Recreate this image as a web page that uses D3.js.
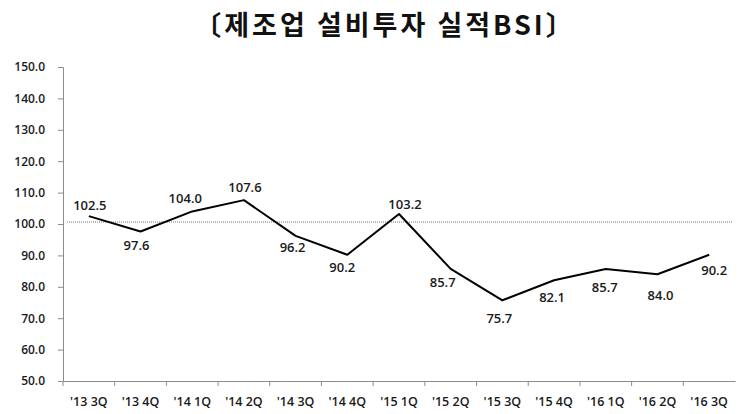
<!DOCTYPE html>
<html>
<head>
<meta charset="utf-8">
<script src="https://cdn.jsdelivr.net/npm/d3@7"></script>
<style>
  body { margin: 0; background: #fff; }
  svg { display: block; }
</style>
</head>
<body>
<div id="chart"></div>
<script>
// data
var quarters = ["'13 3Q", "'13 4Q", "'14 1Q", "'14 2Q", "'14 3Q", "'14 4Q", "'15 1Q",
                "'15 2Q", "'15 3Q", "'15 4Q", "'16 1Q", "'16 2Q", "'16 3Q"];
var bsi = [102.5, 97.6, 104.0, 107.6, 96.2, 90.2, 103.2, 85.7, 75.7, 82.1, 85.7, 84.0, 90.2];
var yTicks = [50, 60, 70, 80, 90, 100, 110, 120, 130, 140, 150];
var baseline = 100;

// label nudges (dx, dy of label centre from point)
var label_nudge = [[1, -11], [-4, 14], [-7, -13], [1, -13], [-3, 12], [-5, 13], [6, -10],
                   [-8, 14], [-3, 18], [-2, 17], [-1, 19], [3, 21], [5, 16]];

var width = 738, height = 414;
var margin = {top: 67, right: 3, bottom: 33, left: 63};

var svg = d3.select('#chart').append('svg')
  .attr('width', width)
  .attr('height', height);

var font = '"Open Sans", "Noto Sans CJK KR", sans-serif';
var text_color = '#1a1a1a';

// title
svg.append('text')
  .text('〔제조업 설비투자 실적BSI〕')
  .attr('x', 385)
  .attr('y', 35)
  .style('font-family', '"Noto Sans CJK KR", sans-serif')
  .style('font-weight', 700)
  .style('font-size', '27px')
  .style('letter-spacing', '3px')
  .style('text-anchor', 'middle')
  .style('fill', '#111');

var x = d3.scaleBand()
  .domain(quarters)
  .range([margin.left, width - margin.right]);

var y = d3.scaleLinear()
  .domain([50, 150])
  .range([height - margin.bottom, margin.top]);

// y axis
var yAxis = svg.append('g')
  .attr('transform', 'translate(' + margin.left + ',0)')
  .call(d3.axisLeft(y).tickValues(yTicks).tickSize(5).tickPadding(13)
    .tickFormat(function(d){ return d3.format('.1f')(d); }));

yAxis.select('.domain').attr('stroke', '#8c8c8c');
yAxis.selectAll('.tick line').attr('stroke', '#8c8c8c');
yAxis.selectAll('.tick text')
  .style('font-family', font)
  .style('font-weight', 600)
  .style('font-size', '12px')
  .style('fill', text_color);

// x axis
var xAxis = svg.append('g')
  .attr('transform', 'translate(0,' + y(50) + ')')
  .call(d3.axisBottom(x).tickSize(0).tickPadding(16));

xAxis.select('.domain').attr('stroke', '#8c8c8c');
xAxis.selectAll('.tick text')
  .style('font-family', font)
  .style('font-weight', 600)
  .style('font-size', '12.5px')
  .style('fill', text_color);

// tick marks at category boundaries
svg.append('g')
  .selectAll('line')
  .data(quarters)
  .enter()
  .append('line')
  .attr('x1', function(d){ return x(d); })
  .attr('x2', function(d){ return x(d); })
  .attr('y1', y(50))
  .attr('y2', y(50) + 5)
  .attr('stroke', '#8c8c8c');

// reference line at 100
svg.append('line')
  .attr('x1', margin.left + 4)
  .attr('x2', width - 6)
  .attr('y1', y(baseline) - 2)
  .attr('y2', y(baseline) - 2)
  .attr('stroke', '#777')
  .attr('stroke-width', 1)
  .attr('stroke-dasharray', '1,1');

var cx = function(d, i){ return x(quarters[i]) + x.bandwidth() / 2; };

var line = d3.line()
  .x(function(d, i){ return cx(d, i); })
  .y(function(d){ return y(d); });

svg.append('path')
  .datum(bsi)
  .attr('d', line)
  .attr('fill', 'none')
  .attr('stroke', '#000')
  .attr('stroke-width', 2)
  .attr('stroke-linejoin', 'round');

// value labels
svg.append('g')
  .selectAll('text')
  .data(bsi)
  .enter()
  .append('text')
  .text(function(d){ return d3.format('.1f')(d); })
  .attr('x', function(d, i){ return cx(d, i) + label_nudge[i][0]; })
  .attr('y', function(d, i){ return y(d) + label_nudge[i][1]; })
  .attr('dy', '0.35em')
  .style('font-family', font)
  .style('font-weight', 600)
  .style('font-size', '13px')
  .style('text-anchor', 'middle')
  .style('fill', text_color);
</script>
</body>
</html>
